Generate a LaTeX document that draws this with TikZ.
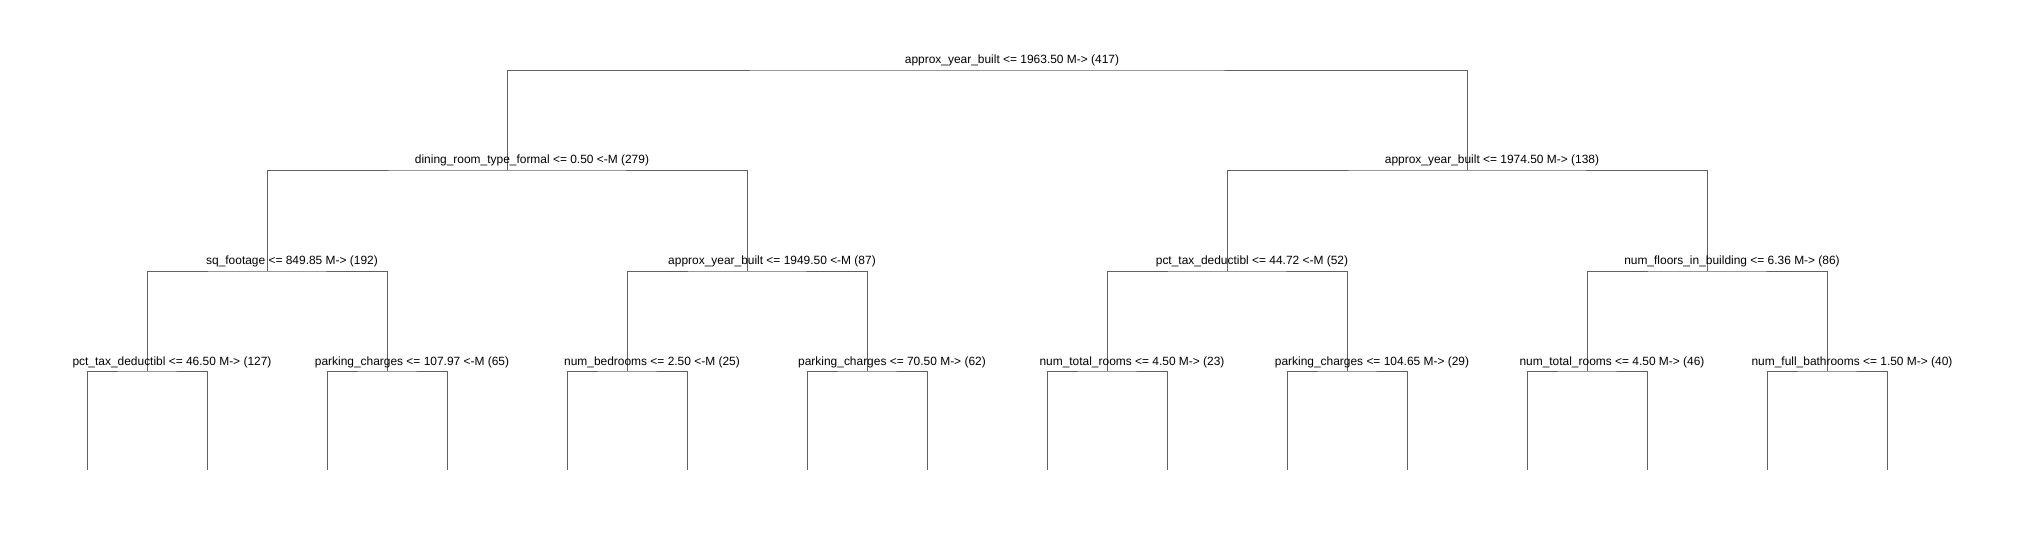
\documentclass[tikz,border=0pt]{standalone}
\usepackage{fontspec}
\setmainfont{Liberation Sans}

\begin{document}
\begin{tikzpicture}[x=0.02cm, y=-0.02cm,
  branch/.style={draw=black!62, line width=0.55pt},
  split/.style={anchor=base, inner sep=0pt, xshift=0.5cm, yshift=0.12cm,
    font=\fontsize{6.8}{8}\selectfont}]
\useasboundingbox (0,0) rectangle (2026,540);

% Split points of the tree, level by level
\coordinate (s1) at (987,70);
\coordinate (s2) at (507,170);
\coordinate (s3) at (1467,170);
\coordinate (s4) at (267,271);
\coordinate (s5) at (747,271);
\coordinate (s6) at (1227,271);
\coordinate (s7) at (1707,271);
\coordinate (s8) at (147,371);
\coordinate (s9) at (387,371);
\coordinate (s10) at (627,371);
\coordinate (s11) at (867,371);
\coordinate (s12) at (1107,371);
\coordinate (s13) at (1347,371);
\coordinate (s14) at (1587,371);
\coordinate (s15) at (1827,371);

% Loose ends of the leaf branches
\coordinate (f16) at (87,470);
\coordinate (f17) at (207,470);
\coordinate (f18) at (327,470);
\coordinate (f19) at (447,470);
\coordinate (f20) at (567,470);
\coordinate (f21) at (687,470);
\coordinate (f22) at (807,470);
\coordinate (f23) at (927,470);
\coordinate (f24) at (1047,470);
\coordinate (f25) at (1167,470);
\coordinate (f26) at (1287,470);
\coordinate (f27) at (1407,470);
\coordinate (f28) at (1527,470);
\coordinate (f29) at (1647,470);
\coordinate (f30) at (1767,470);
\coordinate (f31) at (1887,470);

% Branches
\draw[branch] (s2) |- (s1) -| (s3);
\draw[branch] (s4) |- (s2) -| (s5);
\draw[branch] (s6) |- (s3) -| (s7);
\draw[branch] (s8) |- (s4) -| (s9);
\draw[branch] (s10) |- (s5) -| (s11);
\draw[branch] (s12) |- (s6) -| (s13);
\draw[branch] (s14) |- (s7) -| (s15);
\draw[branch] (f16) |- (s8) -| (f17);
\draw[branch] (f18) |- (s9) -| (f19);
\draw[branch] (f20) |- (s10) -| (f21);
\draw[branch] (f22) |- (s11) -| (f23);
\draw[branch] (f24) |- (s12) -| (f25);
\draw[branch] (f26) |- (s13) -| (f27);
\draw[branch] (f28) |- (s14) -| (f29);
\draw[branch] (f30) |- (s15) -| (f31);

% Split labels
\node[split] (lab1) at (s1) {approx\_year\_built <= 1963.50 M-> (417)};
\node[split] (lab2) at (s2) {dining\_room\_type\_formal <= 0.50 <-M (279)};
\node[split] (lab3) at (s3) {approx\_year\_built <= 1974.50 M-> (138)};
\node[split] (lab4) at (s4) {sq\_footage <= 849.85 M-> (192)};
\node[split] (lab5) at (s5) {approx\_year\_built <= 1949.50 <-M (87)};
\node[split] (lab6) at (s6) {pct\_tax\_deductibl <= 44.72 <-M (52)};
\node[split] (lab7) at (s7) {num\_floors\_in\_building <= 6.36 M-> (86)};
\node[split] (lab8) at (s8) {pct\_tax\_deductibl <= 46.50 M-> (127)};
\node[split] (lab9) at (s9) {parking\_charges <= 107.97 <-M (65)};
\node[split] (lab10) at (s10) {num\_bedrooms <= 2.50 <-M (25)};
\node[split] (lab11) at (s11) {parking\_charges <= 70.50 M-> (62)};
\node[split] (lab12) at (s12) {num\_total\_rooms <= 4.50 M-> (23)};
\node[split] (lab13) at (s13) {parking\_charges <= 104.65 M-> (29)};
\node[split] (lab14) at (s14) {num\_total\_rooms <= 4.50 M-> (46)};
\node[split] (lab15) at (s15) {num\_full\_bathrooms <= 1.50 M-> (40)};

\end{tikzpicture}
\end{document}
